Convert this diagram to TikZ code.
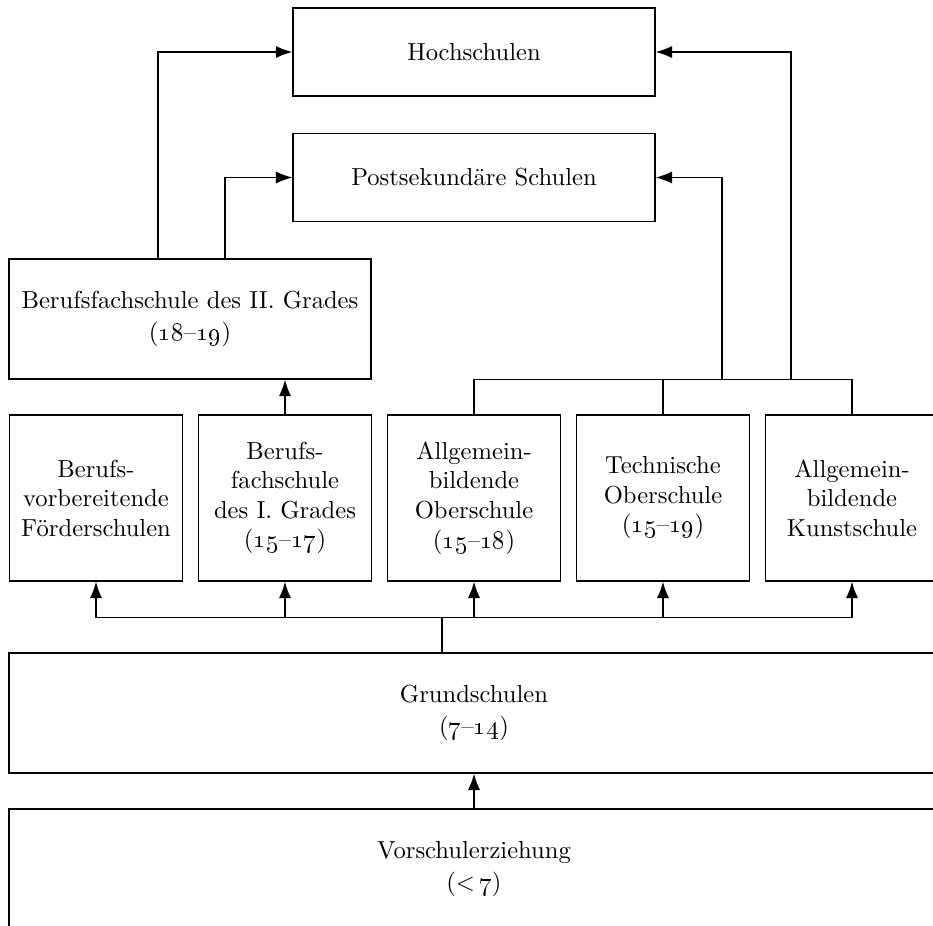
\documentclass[tikz,border=0pt]{standalone}
\usepackage{tikz}
\usetikzlibrary{shapes,arrows,arrows.meta}

\begin{document}
\begin{tikzpicture}[node distance = 2.835cm, auto, line width=0.6pt,
    font=\fontsize{10.5}{12.6}\selectfont]
  \tikzstyle{block} = [rectangle, draw, align=center,
    minimum width=2.595cm, minimum height=2.49cm, inner sep=2pt]
  \tikzstyle{wide} = [rectangle, draw, align=center,
    minimum width=5.43cm, minimum height=1.32cm]
  \tikzstyle{base} = [rectangle, draw, align=center,
    minimum width=13.95cm, minimum height=1.8cm]
  \tikzstyle{line} = [draw, -{Latex[length=7pt,width=5.2pt]}]

  % Frame
  \useasboundingbox (-7.11,0.78) rectangle (6.885,-13.095);
  \clip (-7.11,0.78) rectangle (6.885,-13.095);

  % Place nodes
  \node [wide] (hoch) {Hochschulen};
  \node [wide, below of=hoch, node distance=1.8825cm] (post) {Postsekundäre Schulen};
  \node [wide, minimum height=1.8cm] (bfs2) at (-4.26,-4.005)
    {Berufsfachschule des II. Grades\\[1pt](\oldstylenums{18}--\oldstylenums{19})};
  \node [block, below of=post, node distance=4.8075cm] (allg)
    {Allgemein-\\bildende\\Oberschule\\(\oldstylenums{15}--\oldstylenums{18})};
  \node [block, left of=allg] (bfs1)
    {Berufs-\\fachschule\\des I. Grades\\(\oldstylenums{15}--\oldstylenums{17})};
  \node [block, left of=bfs1] (fvs) {Berufs-\\vorbereitende\\Förderschulen};
  \node [block, right of=allg] (tech)
    {Technische\\Oberschule\\(\oldstylenums{15}--\oldstylenums{19})};
  \node [block, right of=tech] (kunst) {Allgemein-\\bildende\\Kunstschule};
  \node [base, below of=allg, node distance=3.225cm] (grund)
    {Grundschulen\\[1pt](\oldstylenums{7}--\oldstylenums{14})};
  \node [base, below of=grund, node distance=2.34cm] (vor)
    {Vorschulerziehung\\[1pt]({<}\,\oldstylenums{7})};

  \coordinate (split) at (tech.north |- bfs2.south);
  \coordinate (bus) at ([yshift=-0.54cm]allg.south);
  \coordinate (stem) at ([xshift=-0.48cm]grund.north);

  % Draw edges
  \path [line] ([xshift=-0.48cm]bfs2.north) |- (hoch);
  \path [line] ([xshift=0.525cm]bfs2.north) |- (post);
  \path [line] (bfs1.north) -- (bfs1.north |- bfs2.south);

  \draw (allg.north) |- (split) -| (kunst.north);
  \draw (tech.north) -- (split);
  \path [line] ([xshift=0.885cm]split) |- (post);
  \path [line] ([xshift=1.92cm]split) |- (hoch);

  \draw (stem) -- (stem |- bus);
  \draw (fvs.south |- bus) -- (kunst.south |- bus);
  \path [line] (fvs.south |- bus) -- (fvs);
  \path [line] (bfs1.south |- bus) -- (bfs1);
  \path [line] (allg.south |- bus) -- (allg);
  \path [line] (tech.south |- bus) -- (tech);
  \path [line] (kunst.south |- bus) -- (kunst);

  \path [line] (vor) -- (grund);
\end{tikzpicture}
\end{document}
